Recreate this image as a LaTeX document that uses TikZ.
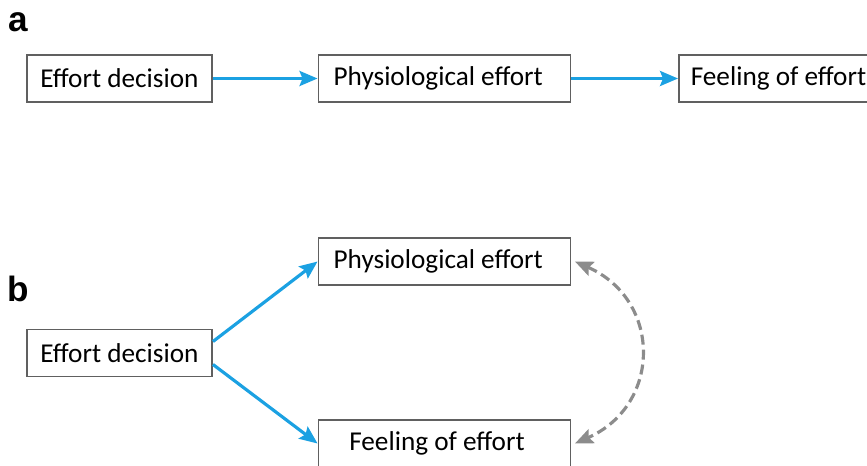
\documentclass[tikz,border=0pt]{standalone}
\usepackage{fontspec}
\setmainfont{Carlito}
\newfontfamily\labelfont{Liberation Sans}
\usetikzlibrary{arrows.meta}
\definecolor{flowblue}{HTML}{1BA1E2}
\definecolor{boxgray}{HTML}{606060}
\definecolor{linkgray}{HTML}{8C8C8C}
\tikzset{
  box/.style={draw=boxgray,line width=1.1pt,fill=white,minimum height=0.94cm,
    inner sep=0pt,font=\fontsize{15.5}{18}\selectfont},
  shortbox/.style={box,minimum width=3.7cm},
  longbox/.style={box,minimum width=5.04cm},
  flow/.style={draw=flowblue,line width=1.8pt,-{Stealth[length=0.36cm,width=0.3cm,inset=0.06cm]}},
  link/.style={draw=linkgray,line width=1.8pt,dash pattern=on 0.2cm off 0.1cm,
    {Stealth[length=0.36cm,width=0.3cm,inset=0.06cm]}-{Stealth[length=0.36cm,width=0.3cm,inset=0.06cm]}},
  panel/.style={font=\labelfont\bfseries\fontsize{20}{24}\selectfont,inner sep=0pt}
}
\begin{document}
\begin{tikzpicture}[x=0.02cm,y=-0.02cm]
  \useasboundingbox (0,0) rectangle (867,466);
  \clip (0,0) rectangle (867,466);

  % panel a
  \node[panel] (labA) at (18,22) {a};
  \node[shortbox] (decA)  at (119.5,78.5) {Effort decision};
  \node[longbox]  (physA) at (444.5,78.5) {Physiological effort\kern0.25cm};
  \node[longbox]  (feelA) at (805,78.5) {Feeling of effort\kern1.06cm};
  \draw[flow] (decA)  -- (physA);
  \draw[flow] (physA) -- (feelA);

  % panel b
  \node[panel] (labB) at (18,289) {b};
  \node[shortbox] (decB)  at (119.5,353)  {Effort decision};
  \node[longbox]  (physB) at (444.5,261.5) {Physiological effort\kern0.25cm};
  \node[longbox]  (feelB) at (444.5,443.5) {Feeling of effort\kern0.3cm};
  \draw[flow] (decB.7)  -- (physB.west);
  \draw[flow] (decB.-7) -- (feelB.west);
  \draw[link] ([xshift=2pt]physB.east) .. controls (662,300) and (662,405) .. ([xshift=2pt]feelB.east);
\end{tikzpicture}
\end{document}
